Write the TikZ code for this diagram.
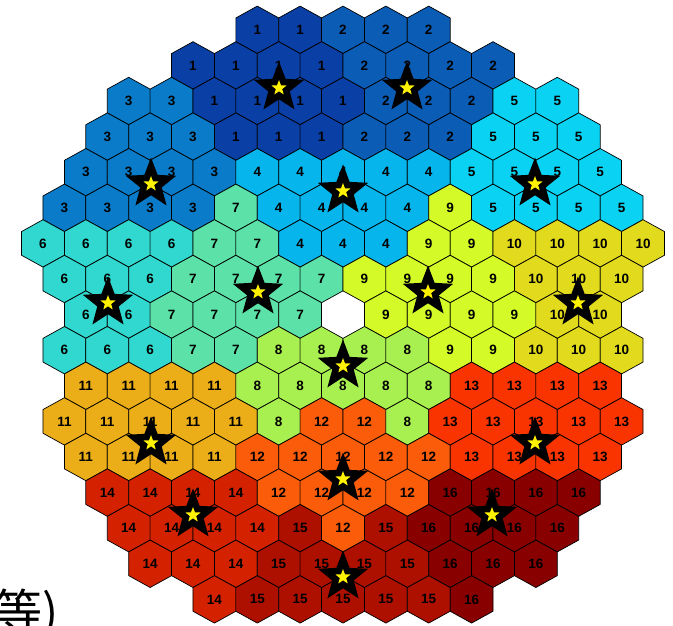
\documentclass[tikz,border=0pt]{standalone}
\usepackage{fontspec}
\setmainfont{Liberation Sans}
\newfontfamily\cjk{Noto Sans CJK SC}
\usetikzlibrary{shapes.geometric}
\definecolor{col1}{RGB}{10,63,166}
\definecolor{col2}{RGB}{10,92,181}
\definecolor{col3}{RGB}{10,123,200}
\definecolor{col4}{RGB}{5,181,236}
\definecolor{col5}{RGB}{10,210,242}
\definecolor{col6}{RGB}{48,216,207}
\definecolor{col7}{RGB}{92,226,168}
\definecolor{col8}{RGB}{168,240,80}
\definecolor{col9}{RGB}{212,250,40}
\definecolor{col10}{RGB}{226,218,28}
\definecolor{col11}{RGB}{236,174,24}
\definecolor{col12}{RGB}{251,92,10}
\definecolor{col13}{RGB}{250,52,0}
\definecolor{col14}{RGB}{212,34,0}
\definecolor{col15}{RGB}{174,16,0}
\definecolor{col16}{RGB}{136,0,0}
\begin{document}
\begin{tikzpicture}[x=1pt,y=1pt,
  hexcell/.style={draw=black,line width=0.7pt,line join=round},
  lbl/.style={inner sep=0pt,font=\fontsize{13.5}{13.5}\selectfont\bfseries,text=black},
  bigstar/.style={star,star points=5,star point ratio=2.35,minimum size=53pt,inner sep=0pt,fill=black,draw=none},
  smallstar/.style={star,star points=5,star point ratio=2.4,minimum size=16pt,inner sep=0pt,fill=yellow,draw=none}]
\useasboundingbox (0,0) rectangle (673,625);
\clip (0,0) rectangle (673,625);
\foreach \r/\hs/\vals in {
  0/-4/{1,1,2,2,2},
  1/-7/{1,1,1,1,2,2,2,2},
  2/-10/{3,3,1,1,1,1,2,2,2,5,5},
  3/-11/{3,3,3,1,1,1,2,2,2,5,5,5},
  4/-12/{3,3,3,3,4,4,4,4,4,5,5,5,5},
  5/-13/{3,3,3,3,7,4,4,4,4,9,5,5,5,5},
  6/-14/{6,6,6,6,7,7,4,4,4,9,9,10,10,10,10},
  7/-13/{6,6,6,7,7,7,7,9,9,9,9,10,10,10},
  8/-12/{6,6,7,7,7,7,0,9,9,9,9,10,10},
  9/-13/{6,6,6,7,7,8,8,8,8,9,9,10,10,10},
  10/-12/{11,11,11,11,8,8,8,8,8,13,13,13,13},
  11/-13/{11,11,11,11,11,8,12,12,8,13,13,13,13,13},
  12/-12/{11,11,11,11,12,12,12,12,12,13,13,13,13},
  13/-11/{14,14,14,14,12,12,12,12,16,16,16,16},
  14/-10/{14,14,14,14,15,12,15,16,16,16,16},
  15/-9/{14,14,14,15,15,15,15,16,16,16},
  16/-6/{14,15,15,15,15,15,16}}{
  \foreach \v [count=\i from 0] in \vals {
    \ifnum\v>0
      \pgfmathsetmacro\cx{343+(\hs+2*\i)*21.43}
      \pgfmathsetmacro\cy{595.2-\r*35.6}
      \filldraw[hexcell,fill=col\v] (\cx,\cy) ++(0,23.7) -- ++(21.43,-11.85) -- ++(0,-23.7) -- ++(-21.43,-11.85) -- ++(-21.43,11.85) -- ++(0,23.7) -- cycle;
      \node[lbl] (c\r-\i) at (\cx,\cy) {\v};
    \fi
  }
}
\foreach \n/\sx/\sy in {1/279/88,2/407/88,3/151/184,4/343/191,5/535/184,6/108/303,7/258/292,8/428/292,9/578/303,10/343/366,11/151/443,12/535/443,13/343/479,14/193/515,15/492/515,16/343/577}{
  \node[bigstar] (s\n) at (\sx,625-\sy) {};
  \node[smallstar] (y\n) at (s\n.center) {};
}
\node[anchor=base west,inner sep=0pt,font=\cjk\fontsize{48}{48}\selectfont] (cap) at (-6,-4) {等)};
\end{tikzpicture}
\end{document}
